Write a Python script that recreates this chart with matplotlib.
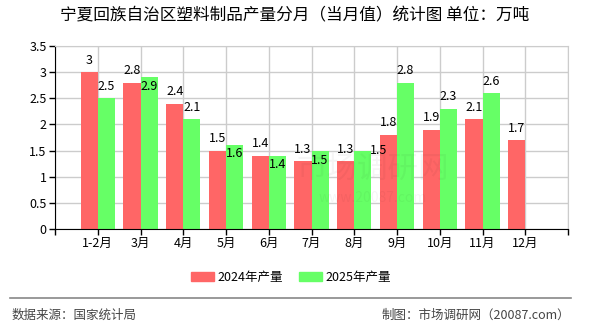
"""宁夏回族自治区塑料制品产量分月（当月值）统计图."""

import matplotlib

matplotlib.use("Agg")
import matplotlib.pyplot as plt
import numpy as np
from matplotlib.patches import Patch

plt.rcParams["font.family"] = ["Noto Sans CJK SC", "DejaVu Sans"]

MONTHS = ["1-2月", "3月", "4月", "5月", "6月", "7月", "8月", "9月", "10月", "11月", "12月"]
OUTPUT_2024 = [3.0, 2.8, 2.4, 1.5, 1.4, 1.3, 1.3, 1.8, 1.9, 2.1, 1.7]
OUTPUT_2025 = [2.5, 2.9, 2.1, 1.6, 1.4, 1.5, 1.5, 2.8, 2.3, 2.6, None]
SERIES_NAMES = ["2024年产量", "2025年产量"]

RED = "#FF6666"
GREEN = "#66FF66"
GRID = "#CCCCCC"

# label offsets (pixels) where the chart moved labels to avoid overlap
GREEN_LABEL_OFFSETS = {1: (0, -9), 3: (0, -8), 4: (0, -9), 5: (0, -10), 6: (16, 0)}

fig = plt.figure(figsize=(5.9, 3.3), dpi=100)
ax = fig.add_axes([55 / 590, 1 - 229 / 330, 513 / 590, 183 / 330])

x = np.arange(len(MONTHS))
width = 0.4
ax.bar(x - width / 2, OUTPUT_2024, width, color=RED, zorder=2)
x25 = [i for i, v in enumerate(OUTPUT_2025) if v is not None]
v25 = [OUTPUT_2025[i] for i in x25]
ax.bar(np.array(x25) + width / 2, v25, width, color=GREEN, zorder=2)

for i, v in enumerate(OUTPUT_2024):
    ax.annotate(
        f"{v:g}", (i - width / 2, v), xytext=(0, 12), textcoords="offset pixels",
        ha="center", va="center", fontsize=9, zorder=4,
    )
for i, v in zip(x25, v25):
    dx, dy = GREEN_LABEL_OFFSETS.get(i, (0, 12))
    ax.annotate(
        f"{v:g}", (i + width / 2, v), xytext=(dx, dy), textcoords="offset pixels",
        ha="center", va="center", fontsize=9, zorder=4,
    )

# faint watermark
ax.text(0.62, 0.32, "市场调研网", transform=ax.transAxes, fontsize=22,
        color="#000000", alpha=0.04, ha="center", va="center", zorder=3)
ax.text(0.62, 0.17, "www.20087.com", transform=ax.transAxes, fontsize=10,
        color="#000000", alpha=0.04, ha="center", va="center", zorder=3)

ax.set_xlim(-1, len(MONTHS))
ax.set_ylim(0, 3.5)
ticks = np.arange(-1, len(MONTHS) + 1)
ax.set_xticks(ticks)
ax.set_xticklabels([""] + MONTHS + [""], fontsize=9)
ax.set_yticks(np.arange(0, 3.51, 0.5))
ax.set_yticklabels([f"{t:g}" for t in np.arange(0, 3.51, 0.5)], fontsize=9)
ax.tick_params(axis="both", direction="out", length=4, width=1, color="black", pad=2)
ax.grid(True, color=GRID, linewidth=1, zorder=0)
ax.set_axisbelow(True)
for side in ["top", "right"]:
    ax.spines[side].set_color(GRID)
for side in ["left", "bottom"]:
    ax.spines[side].set_color("black")

fig.text(0.5, 1 - 16 / 330, "宁夏回族自治区塑料制品产量分月（当月值）统计图 单位：万吨",
         ha="center", va="center", fontsize=12)

handles = [Patch(color=RED), Patch(color=GREEN)]
fig.legend(
    handles, SERIES_NAMES, loc="center", bbox_to_anchor=(291 / 590, 1 - 277 / 330),
    ncol=2, frameon=False, fontsize=9, handlelength=1.8, handleheight=0.75,
    handletextpad=0.3, columnspacing=1.3,
)

fig.add_artist(plt.Line2D([10 / 590, 571 / 590], [1 - 298 / 330] * 2,
                          color="#888888", linewidth=1.2))
fig.text(12 / 590, 1 - 315 / 330, "数据来源：国家统计局", ha="left", va="center",
         fontsize=9, color="#444444")
fig.text(570 / 590, 1 - 315 / 330, "制图：市场调研网（20087.com）", ha="right",
         va="center", fontsize=9, color="#444444")

fig.savefig("out.png", dpi=100)
